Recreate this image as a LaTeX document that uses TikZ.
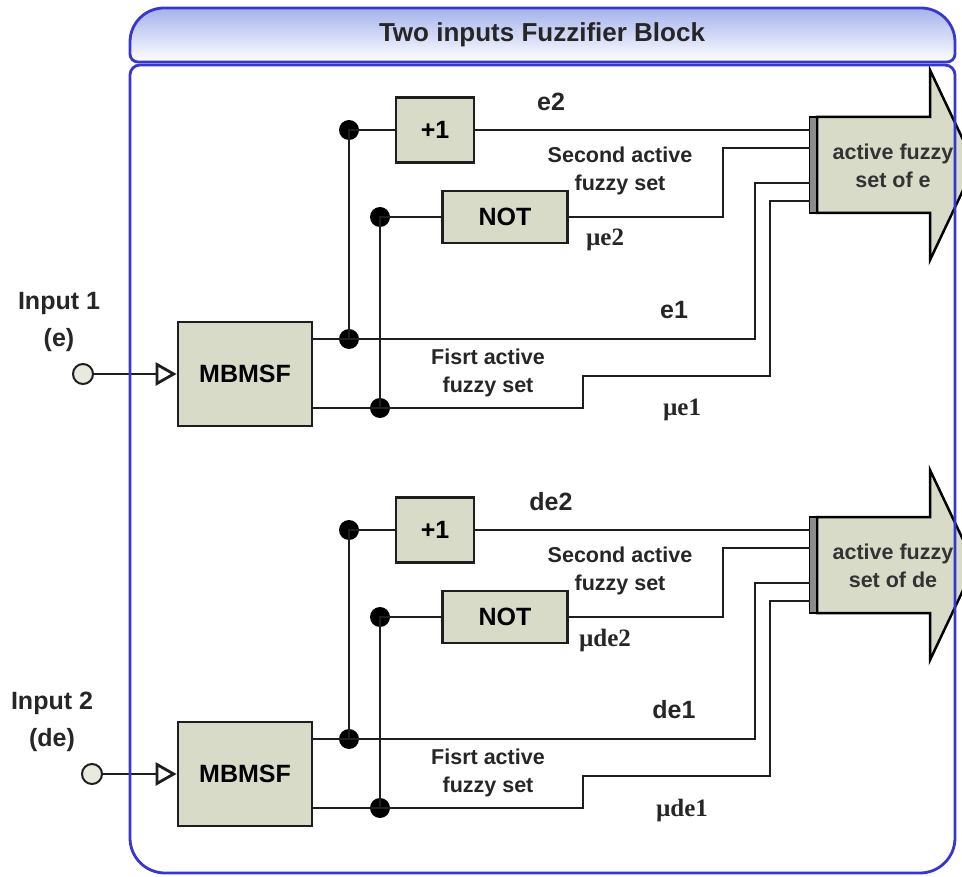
\documentclass[tikz,border=0pt]{standalone}
\usepackage{fontspec}
\setmainfont{Liberation Sans}
\newfontfamily\lserif{Liberation Serif}
\usepackage{xcolor}
\usetikzlibrary{arrows.meta}

\definecolor{boxfill}{RGB}{217,219,201}
\definecolor{wirec}{RGB}{30,30,30}
\definecolor{framec}{RGB}{55,55,205}
\definecolor{titletop}{RGB}{165,178,235}

\begin{document}
\begin{tikzpicture}[x=1pt,y=-1pt,
        conn/.style={draw=wirec,line width=2.8pt},
        block/.style={draw=wirec,fill=boxfill,line width=2.8pt,inner sep=0pt,
            font=\bfseries\fontsize{25}{28}\selectfont},
        dot/.style={circle,fill=black,inner sep=0pt,minimum size=20pt},
        inpt/.style={circle,draw=wirec,fill=boxfill!60,line width=2pt,inner sep=0pt,minimum size=20pt},
        lbl/.style={font=\bfseries\fontsize{21.5}{28}\selectfont,align=center,text=black!85},
        sig/.style={font=\bfseries\fontsize{25}{28}\selectfont,text=black!85},
        mulbl/.style={font=\lserif\bfseries\fontsize{25}{28}\selectfont,text=black!85},
        frame/.style={draw=framec,line width=2.8pt}]
    \fill[white] (0,0) rectangle (962,877);
    \useasboundingbox (0,0) rectangle (962,877);
    \clip (0,0) rectangle (962,877);
    % title band
    \draw[frame,top color=titletop,bottom color=white]
        (542,62) [rounded corners=8pt] -- (130,62) [rounded corners=34pt] -- (130,8)
        -- (955,8) [rounded corners=8pt] -- (955,62) -- cycle;
    \node[font=\bfseries\fontsize{26}{28}\selectfont,text=black!85] (ttl) at (542,35) {Two inputs Fuzzifier Block};
    % two fuzzifier channels
    \foreach \i/\yo/\sg/\cx/\lx in {1/0/e/83/59,2/400/de/92/52}{
        \begin{scope}[yshift=-\yo pt]
            \node[sig,align=center] (lab\i) at (\lx,322) {Input \i\\[9pt](\sg)};
            \node[inpt] (in\i) at (\cx,374) {};
            \node[block,minimum width=134pt,minimum height=104pt] (mb\i) at (245,374) {MBMSF};
            \node[block,minimum width=78pt,minimum height=65pt] (pl\i) at (435,130) {+1};
            \node[block,minimum width=125pt,minimum height=52pt] (nt\i) at (505,217) {NOT};
            \node[dot] (da\i) at (349,339) {};
            \node[dot] (db\i) at (380,408) {};
            \node[dot] (dc\i) at (349,130) {};
            \node[dot] (dd\i) at (380,217) {};
            % output arrow
            \draw[fill=boxfill,draw=black,line width=2.5pt,line join=miter]
                (817,117) -- (930,117) -- (930,70) -- (975,165) -- (930,260) -- (930,213) -- (817,213) -- cycle;
            \node[lbl,text=black!80] (af\i) at (893,166) {active fuzzy\\set of \sg};
            \node[draw=black,fill=black!45,line width=1.5pt,inner sep=0pt,minimum width=7pt,minimum height=96pt] (bar\i) at (813,165) {};
            \coordinate (pa\i) at (810,130);
            \coordinate (pb\i) at (810,148);
            \coordinate (pc\i) at (810,183);
            \coordinate (pd\i) at (810,201);
            % wires
            \draw[conn,-{Triangle[open,length=21pt,width=23pt]}] (in\i) -- (mb\i.west);
            \draw[conn] (mb\i.east |- da\i) -- (da\i.center) -| (755,183) -- (pc\i);
            \draw[conn] (mb\i.east |- db\i) -- (db\i.center) -| (583,376) -| (770,201) -- (pd\i);
            \draw[conn] (da\i.center) -- (dc\i.center) -- (pl\i.west);
            \draw[conn] (db\i.center) -- (dd\i.center) -- (nt\i.west);
            \draw[conn] (pl\i.east) -- (pa\i);
            \draw[conn] (nt\i.east) -| (723,148) -- (pb\i);
            % labels
            \node[sig] (s2\i) at (551,102) {\sg2};
            \node[lbl] (sa\i) at (620,171) {Second active\\fuzzy set};
            \node[mulbl] (m2\i) at (605,240) {µ\sg2};
            \node[sig] (s1\i) at (674,310) {\sg1};
            \node[lbl] (fa\i) at (488,373) {Fisrt active\\fuzzy set};
            \node[mulbl] (m1\i) at (682,410) {µ\sg1};
        \end{scope}
    }
    % fuzzifier frame
    \draw[frame] (130,400) [rounded corners=10pt] -- (130,65) -- (955,65)
        [rounded corners=35pt] -- (955,873) -- (130,873) -- cycle;
\end{tikzpicture}
\end{document}
